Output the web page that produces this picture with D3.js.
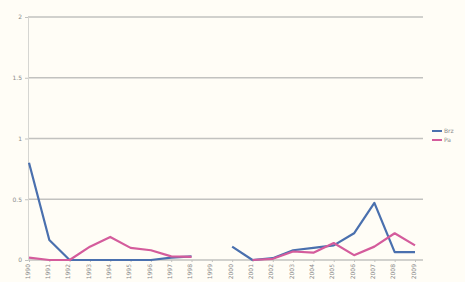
<!DOCTYPE html>
<html>
<head>
<meta charset="utf-8">
<script src="https://cdn.jsdelivr.net/npm/d3@7"></script>
<style>
  body { margin: 0; background: #fffdf6; }
  text { font-family: "DejaVu Sans", sans-serif; fill: #8a8a8a; }
</style>
</head>
<body>
<div id="chart"></div>
<script>
// chart data
const years = ['1990', '1991', '1992', '1993', '1994', '1995', '1996', '1997', '1998', '1999',
               '2000', '2001', '2002', '2003', '2004', '2005', '2006', '2007', '2008', '2009'];
const brz = [0.80, 0.165, 0, 0, 0, 0, 0, 0.02, 0.03, null,
             0.11, 0, 0.015, 0.08, 0.10, 0.12, 0.22, 0.47, 0.065, 0.065];
const pa = [0.02, 0, 0, 0.11, 0.19, 0.10, 0.08, 0.03, 0.025, null,
            null, 0, 0.01, 0.07, 0.06, 0.14, 0.04, 0.11, 0.22, 0.12];
const yTicks = [0, 0.5, 1, 1.5, 2];
const seriesNames = ['Brz', 'Pa'];
const seriesColors = ['#4a70ae', '#d45c9c'];

const width = 465;
const height = 282;
const margin = { top: 17, right: 42, bottom: 22, left: 28 };

const svg = d3.select('#chart')
    .append('svg')
    .attr('width', width)
    .attr('height', height);

svg.append('rect')
    .attr('width', width)
    .attr('height', height)
    .attr('fill', '#fffdf6');

// scales
const x = d3.scalePoint()
    .domain(years)
    .range([margin.left + 1, width - 50]);

const y = d3.scaleLinear()
    .domain([0, 2])
    .range([height - margin.bottom, margin.top]);

// horizontal gridlines
svg.append('g')
    .selectAll('line')
    .data(yTicks)
    .join('line')
    .attr('x1', margin.left)
    .attr('x2', width - margin.right)
    .attr('y1', d => y(d))
    .attr('y2', d => y(d))
    .attr('stroke', '#c2c2bf')
    .attr('stroke-width', 1.5);

// y axis
const yAxis = svg.append('g')
    .attr('transform', `translate(${margin.left},0)`)
    .call(d3.axisLeft(y).tickValues(yTicks).tickSize(3).tickFormat(d3.format('')));
yAxis.select('.domain').attr('stroke', '#d6d6d2');
yAxis.selectAll('.tick line').attr('stroke', '#c2c2bf');
yAxis.selectAll('text').attr('font-size', 6).attr('fill', '#7f7f7f');

// x axis
const xAxis = svg.append('g')
    .attr('transform', `translate(0,${height - margin.bottom})`)
    .call(d3.axisBottom(x).tickSize(2));
xAxis.select('.domain').remove();
xAxis.selectAll('.tick line').attr('stroke', '#c2c2bf');
xAxis.selectAll('text')
    .attr('font-size', 6)
    .attr('fill', '#8f8f8f')
    .attr('transform', 'rotate(-90)')
    .attr('text-anchor', 'end')
    .attr('x', -4)
    .attr('y', -2)
    .attr('dy', '0.35em');

// lines
const line = d3.line()
    .defined(d => d.v !== null)
    .x(d => x(d.year))
    .y(d => y(d.v));

[brz, pa].forEach((vals, i) => {
    svg.append('path')
        .datum(years.map((year, j) => ({ year, v: vals[j] })))
        .attr('fill', 'none')
        .attr('stroke', seriesColors[i])
        .attr('stroke-width', 2.2)
        .attr('stroke-linejoin', 'round')
        .attr('d', line);
});

// legend
const legend = svg.append('g')
    .attr('transform', `translate(${width - 33},131)`);
seriesNames.forEach((name, i) => {
    legend.append('line')
        .attr('x1', 0)
        .attr('x2', 10)
        .attr('y1', i * 9)
        .attr('y2', i * 9)
        .attr('stroke', seriesColors[i])
        .attr('stroke-width', 2);
    legend.append('text')
        .attr('x', 12)
        .attr('y', i * 9)
        .attr('dy', '0.35em')
        .attr('font-size', 6)
        .text(name);
});
</script>
</body>
</html>
